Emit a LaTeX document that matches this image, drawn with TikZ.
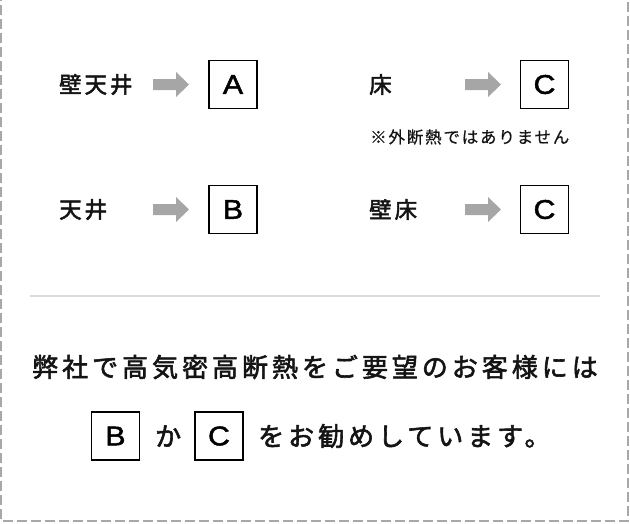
\documentclass[tikz,border=0pt]{standalone}
\usepackage{fontspec}
\newfontfamily\jplabel[LetterSpace=13,FakeBold=2.2]{Noto Sans CJK JP}
\newfontfamily\jpbig[LetterSpace=15.3,FakeBold=2.2]{Noto Sans CJK JP}
\newfontfamily\jpnote[LetterSpace=11,FakeBold=0.6]{Noto Sans CJK JP}
\newfontfamily\latinbox[FakeStretch=1.12,FakeBold=1.8]{Liberation Sans}
\definecolor{ink}{HTML}{141414}
\definecolor{arrowgray}{HTML}{A6A6A6}
\definecolor{bordergray}{HTML}{A8A8A8}
\definecolor{rulegray}{HTML}{DCDCDC}
\begin{document}
\begin{tikzpicture}[x=1pt,y=-1pt,
  lbl/.style={anchor=west,inner sep=0pt,text=ink,font=\jplabel\fontsize{22.5}{26}\selectfont},
  note/.style={anchor=west,inner sep=0pt,text=ink,font=\jpnote\fontsize{16.5}{20}\selectfont},
  big/.style={anchor=west,inner sep=0pt,text=ink,font=\jpbig\fontsize{26}{30}\selectfont},
  letterbox/.style={draw=black,line width=1.7pt,minimum width=48pt,minimum height=48pt,inner sep=0pt,text=black,font=\latinbox\fontsize{27}{30}\selectfont},
  grayarrow/.style={fill=arrowgray,draw=none}
]
\useasboundingbox (0,0) rectangle (630,523);
% dashed frame
\draw[bordergray,line width=1.5pt,dash pattern=on 10pt off 4pt] (628,-12) -- (628,521) -- (1,521) -- (1,-12);
% row 1
\node[lbl] (l1) at (59,84.5) {壁天井};
\coordinate (a1) at (153,84.5);
\node[letterbox] (bA) at (233,84.5) {A};
\node[lbl] (l2) at (369,84.5) {床};
\coordinate (a2) at (465,84.5);
\node[letterbox] (bC1) at (544.5,84.5) {C};
\node[note] (n1) at (370,137) {※外断熱ではありません};
% row 2
\node[lbl] (l3) at (59,209.5) {天井};
\coordinate (a3) at (153,209.5);
\node[letterbox] (bB) at (233,209.5) {B};
\node[lbl] (l4) at (369,209.5) {壁床};
\coordinate (a4) at (465,209.5);
\node[letterbox] (bC2) at (544.5,209.5) {C};
% block arrows
\foreach \c in {a1,a2,a3,a4}{
  \fill[grayarrow] (\c) ++(0,-5.5) -- ++(23,0) -- ++(0,-7) -- ++(13,12.5) -- ++(-13,12.5) -- ++(0,-7) -- ++(-23,0) -- cycle;
}
% separator
\coordinate (s1) at (30,295.5);
\coordinate (s2) at (600,295.5);
\draw[rulegray,line width=2pt] (s1) -- (s2);
% message
\node[big] (m1) at (32,367) {弊社で高気密高断熱をご要望のお客様には};
\node[letterbox] (mB) at (115.5,436) {B};
\node[big] (mka) at (155,436) {か};
\node[letterbox] (mC) at (219,436) {C};
\node[big] (m2) at (258,436) {をお勧めしています。};
\end{tikzpicture}
\end{document}
